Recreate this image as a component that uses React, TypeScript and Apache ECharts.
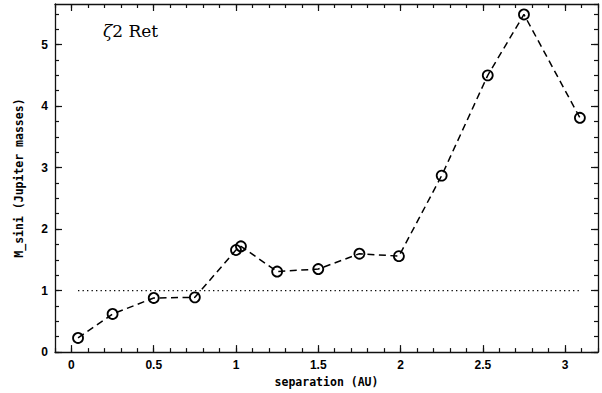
import React, { useEffect, useRef } from "react";
import * as echarts from "echarts";

const separation = [0.04, 0.25, 0.5, 0.75, 1.0, 1.03, 1.25, 1.5, 1.75, 1.99, 2.25, 2.53, 2.75, 3.09];
const msini = [0.23, 0.62, 0.88, 0.89, 1.66, 1.72, 1.31, 1.35, 1.6, 1.56, 2.87, 4.5, 5.49, 3.81];
const referenceLevel = 1.0;
const xMajorTicks = [0, 0.5, 1, 1.5, 2, 2.5, 3];
const yMajorTicks = [0, 1, 2, 3, 4, 5];
const titleSymbol = "ζ";
const titleRest = "2 Ret";

const X_MIN = -0.1;
const X_MAX = 3.2;
const Y_MIN = 0;
const Y_MAX = 5.66;

const fmtX = (v: number) => {
  const t = xMajorTicks.find((m) => Math.abs(m - v) < 1e-6);
  return t === undefined ? "" : String(t);
};
const fmtY = (v: number) => {
  const t = yMajorTicks.find((m) => Math.abs(m - v) < 1e-6);
  return t === undefined ? "" : String(t);
};

const labelFont = {
  fontFamily: "'Liberation Sans', Arial, sans-serif",
  fontSize: 12,
  fontWeight: "bold" as const,
  color: "#000",
};
const nameFont = {
  fontFamily: "'DejaVu Sans Mono', 'Liberation Mono', monospace",
  fontSize: 11.5,
  fontWeight: "bold" as const,
  color: "#000",
};

export default function App() {
  const ref = useRef<HTMLDivElement>(null);
  useEffect(() => {
    if (!ref.current) return;
    const chart = echarts.init(ref.current, undefined, { renderer: "svg" });
    const lineCol = "#111";
    const baseX = (position: "top" | "bottom", major: boolean, showLabel: boolean, showLine: boolean) => ({
      type: "value" as const,
      position,
      min: X_MIN,
      max: X_MAX,
      interval: 0.1,
      axisLine: { show: showLine, onZero: false, lineStyle: { color: lineCol, width: 1.3 } },
      axisTick: major
        ? { show: true, inside: true, length: 7, lineStyle: { color: lineCol, width: 1.2 }, customValues: xMajorTicks }
        : { show: true, inside: true, length: 4, interval: 0, lineStyle: { color: lineCol, width: 1.2 } },
      axisLabel: showLabel
        ? { show: true, interval: 0, margin: 7, formatter: (v: number) => fmtX(v), showMinLabel: true, showMaxLabel: true, ...labelFont }
        : { show: false },
      splitLine: { show: false },
    });
    const baseY = (position: "left" | "right", major: boolean, showLabel: boolean, showLine: boolean) => ({
      type: "value" as const,
      position,
      min: Y_MIN,
      max: Y_MAX,
      interval: 0.25,
      axisLine: { show: showLine, onZero: false, lineStyle: { color: lineCol, width: 1.3 } },
      axisTick: major
        ? { show: true, inside: true, length: 7, lineStyle: { color: lineCol, width: 1.2 }, customValues: yMajorTicks }
        : { show: true, inside: true, length: 4, interval: 0, lineStyle: { color: lineCol, width: 1.2 } },
      axisLabel: showLabel
        ? { show: true, interval: 0, margin: 7, formatter: (v: number) => fmtY(v), showMaxLabel: false, ...labelFont }
        : { show: false },
      splitLine: { show: false },
    });

    const xa0: any = baseX("bottom", false, true, true);
    xa0.name = "separation (AU)";
    xa0.nameLocation = "middle";
    xa0.nameGap = 22;
    xa0.nameTextStyle = { ...nameFont };
    const ya0: any = baseY("left", false, true, true);
    ya0.name = "M_sini (Jupiter masses)";
    ya0.nameLocation = "middle";
    ya0.nameGap = 30;
    ya0.nameTextStyle = { ...nameFont };

    const option: any = {
      animation: false,
      backgroundColor: "#fff",
      grid: { left: 55, right: 4, top: 4, bottom: 40, containLabel: false },
      xAxis: [
        xa0,
        baseX("bottom", true, false, false),
        baseX("top", false, false, true),
        baseX("top", true, false, false),
      ],
      yAxis: [
        ya0,
        baseY("left", true, false, false),
        baseY("right", false, false, true),
        baseY("right", true, false, false),
      ],
      graphic: [
        {
          type: "text",
          left: 103,
          top: 22,
          style: {
            text: "{z|" + titleSymbol + "}{r|" + titleRest + "}",
            rich: {
              z: { fontFamily: "'DejaVu Serif', serif", fontStyle: "italic", fontSize: 17, fill: "#000" },
              r: { fontFamily: "'DejaVu Serif', serif", fontSize: 17, fill: "#000" },
            },
            fill: "#000",
          },
        },
      ],
      series: [
        {
          type: "line",
          xAxisIndex: 0,
          yAxisIndex: 0,
          data: [
            [separation[0], referenceLevel],
            [separation[separation.length - 1], referenceLevel],
          ],
          symbol: "none",
          silent: true,
          lineStyle: { color: "#000", width: 1.3, type: [1.3, 3.2] },
        },
        {
          type: "line",
          xAxisIndex: 0,
          yAxisIndex: 0,
          data: separation.map((x, i) => [x, msini[i]]),
          symbol: "circle",
          symbolSize: 10,
          showAllSymbol: true,
          lineStyle: { color: "#000", width: 1.5, type: [7, 4.5] },
          itemStyle: { color: "rgba(0,0,0,0)", borderColor: "#000", borderWidth: 1.8 },
        },
      ],
    };
    chart.setOption(option);
    return () => chart.dispose();
  }, []);
  return <div ref={ref} style={{ position: "fixed", left: 0, top: 0, width: 602, height: 393 }} />;
}
